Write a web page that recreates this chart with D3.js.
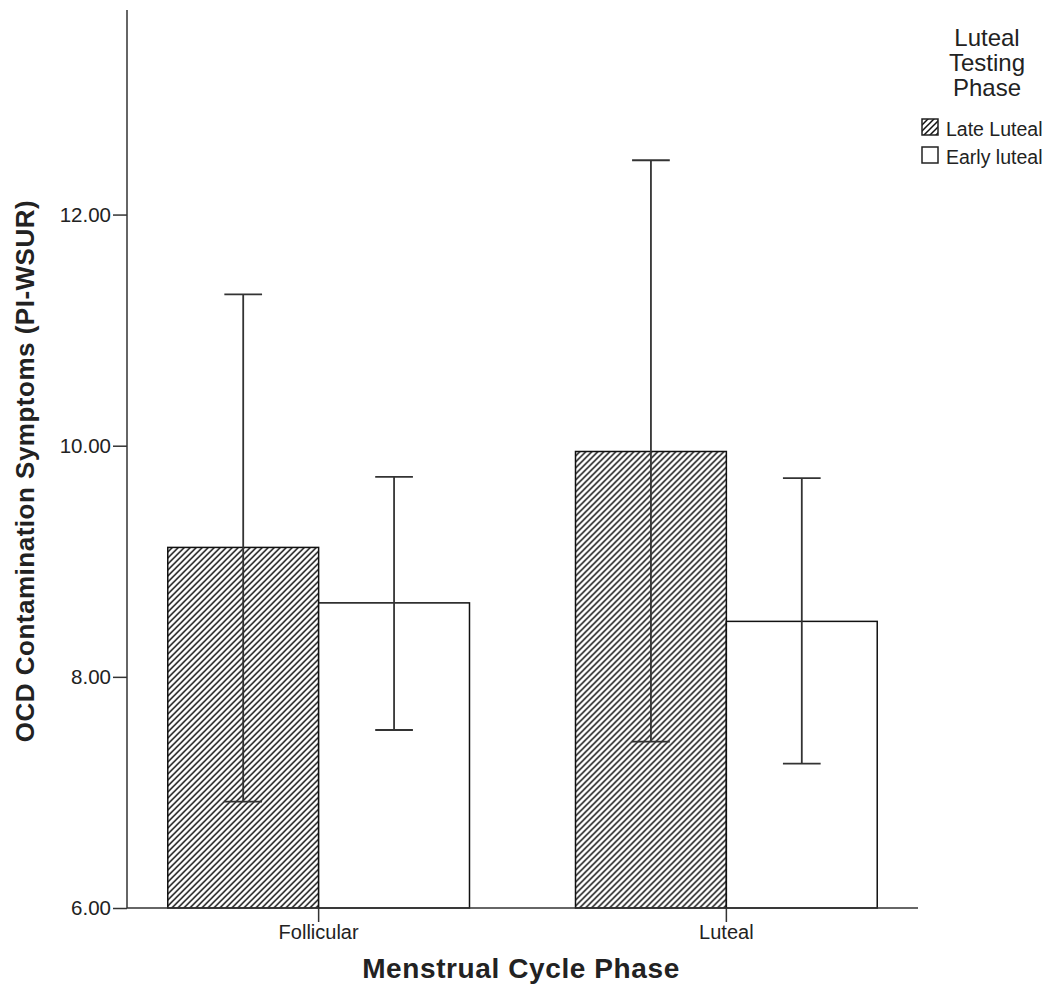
<!DOCTYPE html>
<html>
<head>
<meta charset="utf-8">
<script src="https://cdnjs.cloudflare.com/ajax/libs/d3/7.8.5/d3.min.js"></script>
<style>
  body { margin: 0; background: #fff; }
  text { font-family: Arial, "Liberation Sans", sans-serif; fill: #222; }
</style>
</head>
<body>
<div id="chart"></div>
<script>
// data
const phases = ["Follicular", "Luteal"];
const groups = ["Late Luteal", "Early luteal"];
const means = [[9.12, 8.64], [9.95, 8.48]];
const upper = [[11.31, 9.73], [12.47, 9.72]];
const lower = [[6.92, 7.54], [7.44, 7.25]];
const yTicks = [6, 8, 10, 12];

const W = 1057, H = 987;
const svg = d3.select("#chart").append("svg")
    .attr("width", W)
    .attr("height", H);

// hatch pattern
svg.append("defs").append("pattern")
    .attr("id", "hatch")
    .attr("patternUnits", "userSpaceOnUse")
    .attr("width", 6)
    .attr("height", 6)
    .append("path")
    .attr("d", "M-1,1 l2,-2 M0,6 l6,-6 M5,7 l2,-2")
    .attr("stroke", "#111")
    .attr("stroke-width", 1.5);

const x = d3.scaleBand()
    .domain(phases)
    .range([127, 918])
    .paddingInner(0.26)
    .paddingOuter(0.1);

const xIn = d3.scaleBand()
    .domain(groups)
    .range([0, x.bandwidth()]);

const y = d3.scaleLinear()
    .domain([6, 13.77])
    .range([908, 10]);

// bars
phases.forEach(function (p, i) {
    const g = svg.append("g").attr("transform", `translate(${x(p)},0)`);
    groups.forEach(function (s, j) {
        g.append("rect")
            .attr("x", xIn(s))
            .attr("y", y(means[i][j]))
            .attr("width", xIn.bandwidth())
            .attr("height", y(6) - y(means[i][j]))
            .attr("fill", j === 0 ? "url(#hatch)" : "#fff")
            .attr("stroke", "#111")
            .attr("stroke-width", 1.5);
    });
});

// error bars
phases.forEach(function (p, i) {
    groups.forEach(function (s, j) {
        const cx = x(p) + xIn(s) + xIn.bandwidth() / 2;
        const cap = xIn.bandwidth() / 8;
        const eb = svg.append("g")
            .attr("stroke", "#333")
            .attr("stroke-width", 1.8);
        eb.append("line")
            .attr("x1", cx).attr("x2", cx)
            .attr("y1", y(upper[i][j])).attr("y2", y(lower[i][j]));
        eb.append("line")
            .attr("x1", cx - cap).attr("x2", cx + cap)
            .attr("y1", y(upper[i][j])).attr("y2", y(upper[i][j]));
        eb.append("line")
            .attr("x1", cx - cap).attr("x2", cx + cap)
            .attr("y1", y(lower[i][j])).attr("y2", y(lower[i][j]));
    });
});

// axes
const yAxis = svg.append("g")
    .attr("transform", "translate(127,0)")
    .call(d3.axisLeft(y).tickValues(yTicks).tickFormat(d3.format(".2f")).tickSize(14).tickPadding(2));
yAxis.select(".domain").attr("d", `M0,${y(13.77)}V${y(6)}`);
yAxis.selectAll("text").style("font-size", "20.5px").attr("fill", "#222");

const xAxis = svg.append("g")
    .attr("transform", "translate(0,908)")
    .call(d3.axisBottom(x).tickSize(14).tickPadding(3));
xAxis.select(".domain").attr("d", "M127,0H918");
xAxis.selectAll("text").style("font-size", "20px").attr("fill", "#222");
svg.selectAll(".domain, .tick line").attr("stroke", "#333").attr("stroke-width", 1.5);

// axis titles
svg.append("text")
    .attr("x", 521).attr("y", 978)
    .attr("text-anchor", "middle")
    .style("font-size", "28px").style("font-weight", "bold")
    .style("letter-spacing", "0.6px")
    .text("Menstrual Cycle Phase");

svg.append("text")
    .attr("transform", "translate(34,471) rotate(-90)")
    .attr("text-anchor", "middle")
    .style("font-size", "26px").style("font-weight", "bold")
    .style("letter-spacing", "0.5px")
    .text("OCD Contamination Symptoms (PI-WSUR)");

// legend
const legTitle = ["Luteal", "Testing", "Phase"];
svg.selectAll(".lt").data(legTitle).enter().append("text")
    .attr("class", "lt")
    .attr("x", 987)
    .attr("y", function (d, i) { return 46 + i * 25; })
    .attr("text-anchor", "middle")
    .style("font-size", "24px")
    .text(function (d) { return d; });

const leg = svg.selectAll(".li").data(groups).enter().append("g")
    .attr("class", "li")
    .attr("transform", function (d, i) { return `translate(922,${119 + i * 28})`; });
leg.append("rect")
    .attr("width", 16).attr("height", 16)
    .attr("fill", function (d, i) { return i === 0 ? "url(#hatch)" : "#fff"; })
    .attr("stroke", "#222").attr("stroke-width", 1.5);
leg.append("text")
    .attr("x", 24).attr("y", 17)
    .style("font-size", "19.5px")
    .text(function (d) { return d; });
</script>
</body>
</html>
